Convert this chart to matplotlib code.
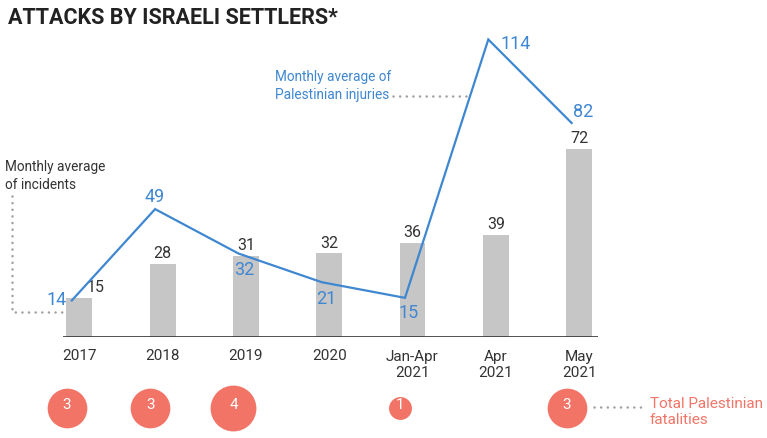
import matplotlib
matplotlib.use('Agg')
import matplotlib.pyplot as plt
import numpy as np

# ---- data ----
categories = ['2017', '2018', '2019', '2020', 'Jan-Apr\n2021', 'Apr\n2021', 'May\n2021']
incidents = [15, 28, 31, 32, 36, 39, 72]          # monthly average of incidents (bars)
injuries = [14, 49, 32, 21, 15, 114, 82]          # monthly average of Palestinian injuries (line)
fatalities = [3, 3, 4, 0, 1, 0, 3]                # total Palestinian fatalities (circles)

FONT = ['Roboto', 'DejaVu Sans']
plt.rcParams['font.family'] = FONT

GRAY = '#c6c6c6'
BLUE = '#3f87d1'
RED = '#f27466'
DARK = '#333333'
DOT = '#a0a0a0'

W, H = 767, 438
fig = plt.figure(figsize=(W / 100, H / 100), dpi=100)

base_px = 337      # baseline, pixels from top
ppu = 2.61         # pixels per unit
x0px, step = 79.3, 83.3

ax = fig.add_axes([0, (H - base_px) / H, 1, base_px / H])
ax.set_xlim(-x0px / step, (W - x0px) / step)
ax.set_ylim(0, base_px / ppu)
for s in ax.spines.values():
    s.set_visible(False)
ax.set_yticks([])

x = np.arange(len(categories))
ax.set_xticks(x, categories)
ax.tick_params(axis='x', length=0, pad=9, labelsize=11, labelcolor=DARK)

# baseline
ax.hlines(0, x[0] - 0.2, x[-1] + 0.23, color=DARK, lw=1.2, zorder=3)

# bars
bars = ax.bar(x, incidents, width=0.31, color=GRAY, zorder=1)
blabels = ax.bar_label(bars, padding=2, fontsize=11.5, color=DARK)
blabels[0].xyann = (12, 2)

# line
lx = x - 0.09
ax.plot(lx, injuries, color=BLUE, lw=1.6, zorder=4, solid_joinstyle='miter')
lab_style = [(-5, 0, 'right'), (0, 12, 'center'), (6, -17, 'center'),
             (5, -17, 'center'), (4, -15, 'center'), (12, -5, 'left'),
             (1, 11, 'left')]
for xi, v, (dx, dy, ha) in zip(lx, injuries, lab_style):
    ax.annotate(str(v), (xi, v), xytext=(dx, dy), textcoords='offset pixels',
                ha=ha, va='center', fontsize=13, color=BLUE, zorder=5)

# fatalities circles
cy = (base_px - 408) / ppu
cx = x - 0.15
for xi, f in zip(cx, fatalities):
    if f > 0:
        ax.scatter([xi], [cy], s=272 * f, color=RED, clip_on=False, zorder=5,
                   linewidths=0)
        ax.text(xi, cy + 1, str(f), ha='center', va='center', color='white',
                fontsize=11, clip_on=False, zorder=6)


def fpx(px, py):
    return px / W, 1 - py / H


def leader(pts):
    xs = [p[0] / W for p in pts]
    ys = [1 - p[1] / H for p in pts]
    fig.add_artist(plt.Line2D(xs, ys, transform=fig.transFigure, color=DOT,
                              lw=1.8, linestyle=(0, (0.05, 2.6)),
                              dash_capstyle='round', solid_capstyle='round'))


# title
fig.text(*fpx(8, 18), 'ATTACKS BY ISRAELI SETTLERS*', ha='left', va='center',
         fontsize=15.5, fontweight='bold', color='#222222')

# annotations
fig.text(*fpx(5, 176), 'Monthly average\nof incidents', ha='left', va='center',
         fontsize=9.8, color=DARK, linespacing=1.3)
leader([(12, 196), (12, 312), (62, 312)])

fig.text(*fpx(275, 86), 'Monthly average of\nPalestinian injuries', ha='left',
         va='center', fontsize=9.8, color=BLUE, linespacing=1.3)
leader([(393, 96), (470, 96)])

fig.text(*fpx(650, 412), 'Total Palestinian\nfatalities', ha='left', va='center',
         fontsize=11, color=RED, linespacing=1.1)
leader([(594, 407), (645, 407)])

fig.savefig('out.png', dpi=100)
